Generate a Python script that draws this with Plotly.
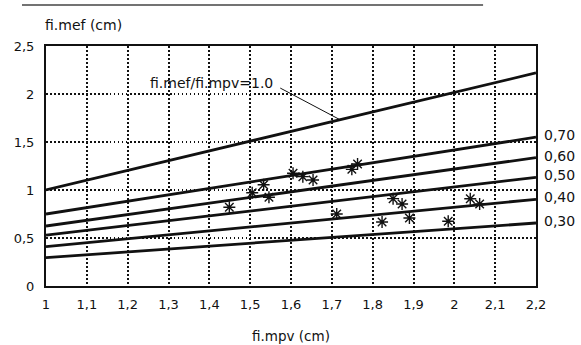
import plotly.graph_objects as go

# ---- data ----
x_ticks = [1, 1.1, 1.2, 1.3, 1.4, 1.5, 1.6, 1.7, 1.8, 1.9, 2, 2.1, 2.2]
x_tick_labels = ["1", "1,1", "1,2", "1,3", "1,4", "1,5", "1,6", "1,7", "1,8", "1,9", "2", "2,1", "2,2"]
y_ticks = [0, 0.5, 1, 1.5, 2, 2.5]
y_tick_labels = ["0", "0,5", "1", "1,5", "2", "2,5"]

line_x = [1.0, 2.2]
ratio_names = ["1.0", "0,70", "0,60", "0,50", "0,40", "0,30"]
ratio_start = [1.0, 0.75, 0.625, 0.53, 0.41, 0.295]
ratio_end = [2.22, 1.55, 1.337, 1.132, 0.903, 0.656]

pts_x = [1.449, 1.505, 1.533, 1.546, 1.605, 1.629, 1.654, 1.749, 1.763, 1.712,
         1.850, 1.872, 1.823, 1.890, 1.985, 2.039, 2.062]
pts_y = [0.82, 0.972, 1.055, 0.924, 1.174, 1.139, 1.104, 1.215, 1.271, 0.75,
         0.91, 0.854, 0.667, 0.708, 0.674, 0.909, 0.854]

INK = "#111111"
FONT = "DejaVu Sans, Verdana, sans-serif"

fig = go.Figure()

for name, y0, y1 in zip(ratio_names, ratio_start, ratio_end):
    fig.add_trace(go.Scatter(x=line_x, y=[y0, y1], mode="lines",
                             line=dict(color=INK, width=2.8),
                             showlegend=False, hoverinfo="skip"))

fig.add_trace(go.Scatter(x=pts_x, y=pts_y, mode="markers",
                         marker=dict(symbol="asterisk-open", size=10, color=INK,
                                     line=dict(color=INK, width=1.4)),
                         showlegend=False))

# right-side ratio labels
for name, y1 in zip(ratio_names[1:], ratio_end[1:]):
    fig.add_annotation(x=2.2, y=y1, xref="x", yref="y", text=name,
                       showarrow=False, xanchor="left", yanchor="middle",
                       xshift=6, yshift=2,
                       font=dict(family=FONT, size=14, color=INK))

# label for ratio 1.0 with leader line
fig.add_annotation(x=1.4056, y=2.115, xref="x", yref="y",
                   text="fi.mef/fi.mpv=1.0", showarrow=False,
                   font=dict(family=FONT, size=14, color=INK))
fig.add_annotation(x=1.72, y=1.732, xref="x", yref="y",
                   ax=1.57, ay=2.07, axref="x", ayref="y", text="",
                   showarrow=True, arrowhead=0, arrowwidth=1, arrowcolor=INK)

# y-axis title at top-left
fig.add_annotation(x=0, y=1, xref="paper", yref="paper", text="fi.mef (cm)",
                   showarrow=False, xanchor="left", yanchor="bottom",
                   xshift=-3, yshift=11,
                   font=dict(family=FONT, size=14, color=INK))

# x-axis title
fig.add_annotation(x=0.5, y=0, xref="paper", yref="paper", text="fi.mpv (cm)",
                   showarrow=False, xanchor="center", yanchor="top",
                   yshift=-40,
                   font=dict(family=FONT, size=13.5, color=INK))

# top rule
fig.add_shape(type="line", xref="paper", yref="paper",
              x0=-0.049, x1=0.892, y0=1.171, y1=1.171,
              line=dict(color="#444444", width=1.5))

GRID_DASH = "1.5px,2.5px"

fig.update_layout(
    width=581, height=345,
    margin=dict(l=46, r=45, t=46, b=59),
    paper_bgcolor="white", plot_bgcolor="white",
    font=dict(family=FONT, size=13, color=INK),
    xaxis=dict(range=[1, 2.2], tickmode="array", tickvals=x_ticks,
               ticktext=x_tick_labels, showgrid=True, gridcolor=INK,
               griddash=GRID_DASH, gridwidth=1.5, showline=True, linecolor=INK,
               linewidth=2, mirror=True, ticks="", zeroline=False,
               ticklabelstandoff=5, automargin=False,
               tickfont=dict(family=FONT, size=13, color=INK)),
    yaxis=dict(range=[0, 2.5], tickmode="array", tickvals=y_ticks,
               ticktext=y_tick_labels, showgrid=True, gridcolor=INK,
               griddash=GRID_DASH, gridwidth=1.5, showline=True, linecolor=INK,
               linewidth=2, mirror=True, ticks="", zeroline=False,
               ticklabelstandoff=7, automargin=False,
               tickfont=dict(family=FONT, size=13, color=INK)),
)

fig.write_html("out.html")
